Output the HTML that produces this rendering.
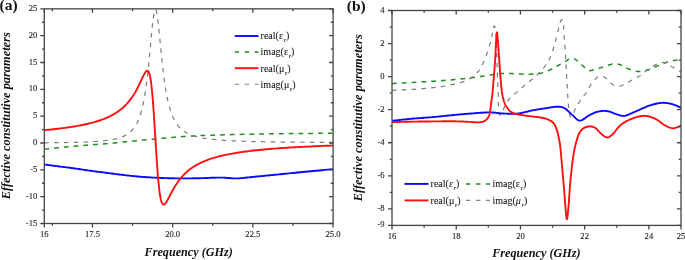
<!DOCTYPE html>
<html><head><meta charset="utf-8"><style>
html,body{margin:0;padding:0;background:#fff;}
body{width:685px;height:260px;overflow:hidden;position:relative;}
svg{position:absolute;left:0;top:0;will-change:transform;}
.t{font-family:"Liberation Serif",serif;}
</style></head><body>
<svg width="685" height="260" viewBox="0 0 685 260">
<rect width="685" height="260" fill="#fff"/>
<g class="t" font-size="8.6" fill="#222" stroke="#222" stroke-width="0.12"><text x="37.3" y="10.95" text-anchor="end">25</text><text x="37.3" y="37.78" text-anchor="end">20</text><text x="37.3" y="64.61" text-anchor="end">15</text><text x="37.3" y="91.44" text-anchor="end">10</text><text x="37.3" y="118.27" text-anchor="end">5</text><text x="37.3" y="145.11" text-anchor="end">0</text><text x="37.3" y="171.94" text-anchor="end">-5</text><text x="37.3" y="198.77" text-anchor="end">-10</text><text x="37.3" y="225.60" text-anchor="end">-15</text><text x="44.30" y="237.0" text-anchor="middle">16</text><text x="92.43" y="237.0" text-anchor="middle">17.5</text><text x="172.66" y="237.0" text-anchor="middle">20.0</text><text x="252.88" y="237.0" text-anchor="middle">22.5</text><text x="333.10" y="237.0" text-anchor="middle">25.0</text><text x="384.6" y="12.50" text-anchor="end">4</text><text x="384.6" y="45.56" text-anchor="end">2</text><text x="384.6" y="78.62" text-anchor="end">0</text><text x="384.6" y="111.68" text-anchor="end">-2</text><text x="384.6" y="144.75" text-anchor="end">-4</text><text x="384.6" y="177.81" text-anchor="end">-6</text><text x="384.6" y="210.87" text-anchor="end">-8</text><text x="384.6" y="227.40" text-anchor="end">-9</text><text x="392.00" y="239.1" text-anchor="middle">16</text><text x="456.22" y="239.1" text-anchor="middle">18</text><text x="520.44" y="239.1" text-anchor="middle">20</text><text x="584.67" y="239.1" text-anchor="middle">22</text><text x="648.89" y="239.1" text-anchor="middle">24</text><text x="681.00" y="239.1" text-anchor="middle">25</text></g>
<g class="t" font-weight="bold" font-size="15.5" fill="#111">
<text x="-0.5" y="10.3">(a)</text><text x="346.8" y="10.8">(b)</text></g>
<g class="t" font-weight="bold" font-style="italic" font-size="12.2" fill="#111">
<text x="188.7" y="255.6" text-anchor="middle">Frequency (GHz)</text>
<text x="536.4" y="256.9" text-anchor="middle">Frequency (GHz)</text>
<text transform="translate(9.6,115.75) rotate(-90)" text-anchor="middle" font-size="12.4">Effective constitutive parameters</text>
<text transform="translate(361.9,117.75) rotate(-90)" text-anchor="middle" font-size="12.4">Effective constitutive parameters</text>
</g>
<g fill="none" stroke-linejoin="round">
<path d="M44.30,149.10 L46.45,148.89 L48.62,148.68 L50.80,148.46 L52.99,148.24 L55.17,148.03 L57.35,147.81 L59.52,147.60 L61.67,147.39 L63.80,147.18 L65.90,146.98 L67.97,146.79 L70.00,146.60 L71.75,146.44 L73.48,146.29 L75.18,146.14 L76.85,145.99 L78.51,145.85 L80.16,145.71 L81.80,145.57 L83.43,145.43 L85.06,145.30 L86.70,145.17 L88.34,145.03 L90.00,144.90 L91.65,144.77 L93.30,144.65 L94.95,144.53 L96.60,144.41 L98.25,144.29 L99.89,144.17 L101.54,144.06 L103.19,143.94 L104.84,143.81 L106.49,143.68 L108.14,143.54 L109.80,143.40 L111.47,143.25 L113.13,143.08 L114.79,142.92 L116.44,142.74 L118.10,142.57 L119.76,142.39 L121.43,142.20 L123.11,142.02 L124.80,141.84 L126.51,141.66 L128.24,141.48 L130.00,141.30 L131.99,141.11 L134.04,140.91 L136.14,140.71 L138.27,140.51 L140.41,140.31 L142.56,140.11 L144.70,139.92 L146.81,139.72 L148.88,139.53 L150.90,139.35 L152.84,139.17 L154.70,139.00 L156.10,138.87 L157.46,138.74 L158.78,138.62 L160.08,138.50 L161.34,138.38 L162.59,138.27 L163.82,138.15 L165.05,138.04 L166.27,137.93 L167.50,137.82 L168.74,137.71 L170.00,137.60 L171.25,137.49 L172.51,137.38 L173.76,137.28 L175.01,137.17 L176.26,137.07 L177.51,136.96 L178.76,136.86 L180.00,136.76 L181.25,136.67 L182.50,136.57 L183.75,136.49 L185.00,136.40 L186.23,136.32 L187.44,136.24 L188.63,136.17 L189.82,136.10 L191.00,136.03 L192.19,135.97 L193.40,135.90 L194.64,135.84 L195.91,135.78 L197.22,135.72 L198.58,135.66 L200.00,135.60 L202.06,135.52 L204.20,135.43 L206.42,135.35 L208.72,135.28 L211.07,135.20 L213.49,135.13 L215.96,135.05 L218.47,134.98 L221.03,134.91 L223.63,134.84 L226.25,134.77 L228.90,134.70 L232.26,134.62 L235.79,134.53 L239.45,134.45 L243.21,134.36 L247.03,134.28 L250.88,134.20 L254.72,134.12 L258.53,134.05 L262.26,133.98 L265.89,133.91 L269.38,133.85 L272.70,133.80 L275.19,133.76 L277.59,133.73 L279.91,133.70 L282.18,133.67 L284.40,133.65 L286.59,133.63 L288.76,133.60 L290.94,133.58 L293.14,133.56 L295.37,133.54 L297.65,133.52 L300.00,133.50 L302.65,133.47 L305.33,133.45 L308.05,133.42 L310.80,133.40 L313.57,133.37 L316.35,133.35 L319.15,133.32 L321.95,133.30 L324.75,133.27 L327.55,133.25 L330.33,133.22 L333.10,133.20" stroke="#1f8f1f" stroke-width="1.5" stroke-dasharray="4.8 5"/>
<path d="M44.30,142.80 L46.60,142.78 L48.91,142.75 L51.21,142.73 L53.52,142.70 L55.82,142.68 L58.12,142.65 L60.43,142.61 L62.73,142.58 L65.03,142.54 L67.34,142.50 L69.64,142.45 L71.95,142.40 L74.25,142.35 L76.55,142.29 L78.86,142.22 L81.16,142.15 L83.46,142.07 L85.77,141.98 L88.07,141.88 L90.38,141.76 L92.68,141.64 L94.98,141.50 L97.29,141.34 L99.59,141.16 L101.90,140.96 L104.20,140.72 L106.50,140.46 L108.81,140.14 L111.11,139.78 L113.41,139.36 L115.72,138.86 L118.02,138.26 L120.33,137.55 L122.63,136.68 L124.93,135.62 L127.24,134.30 L129.54,132.64 L131.85,130.52 L134.15,127.76 L134.15,127.76 L134.31,127.54 L134.47,127.31 L134.63,127.08 L134.79,126.85 L134.95,126.60 L135.11,126.36 L135.28,126.11 L135.44,125.85 L135.60,125.59 L135.76,125.33 L135.92,125.05 L136.08,124.78 L136.24,124.49 L136.40,124.20 L136.56,123.91 L136.72,123.61 L136.89,123.30 L137.05,122.99 L137.21,122.66 L137.37,122.34 L137.53,122.00 L137.69,121.66 L137.85,121.31 L138.01,120.95 L138.17,120.59 L138.33,120.21 L138.50,119.83 L138.66,119.44 L138.82,119.04 L138.98,118.63 L139.14,118.21 L139.30,117.79 L139.46,117.35 L139.62,116.90 L139.78,116.45 L139.94,115.98 L140.11,115.50 L140.27,115.01 L140.43,114.51 L140.59,114.00 L140.75,113.47 L140.91,112.94 L141.07,112.39 L141.23,111.82 L141.39,111.25 L141.55,110.66 L141.71,110.05 L141.88,109.44 L142.04,108.80 L142.20,108.15 L142.36,107.49 L142.52,106.81 L142.68,106.11 L142.84,105.40 L143.00,104.67 L143.16,103.92 L143.32,103.16 L143.49,102.37 L143.65,101.57 L143.81,100.74 L143.97,99.90 L144.13,99.03 L144.29,98.15 L144.45,97.24 L144.61,96.32 L144.77,95.37 L144.93,94.39 L145.10,93.40 L145.26,92.38 L145.42,91.33 L145.58,90.27 L145.74,89.17 L145.90,88.05 L146.06,86.91 L146.22,85.74 L146.38,84.55 L146.54,83.32 L146.71,82.07 L146.87,80.80 L147.03,79.49 L147.19,78.16 L147.35,76.81 L147.51,75.42 L147.67,74.01 L147.83,72.57 L147.99,71.11 L148.15,69.61 L148.32,68.10 L148.48,66.55 L148.64,64.98 L148.80,63.39 L148.96,61.78 L149.12,60.14 L149.28,58.48 L149.44,56.81 L149.60,55.11 L149.76,53.40 L149.93,51.67 L150.09,49.94 L150.25,48.19 L150.41,46.44 L150.57,44.68 L150.73,42.92 L150.89,41.16 L151.05,39.40 L151.21,37.66 L151.37,35.92 L151.53,34.20 L151.70,32.50 L151.86,30.83 L152.02,29.18 L152.18,27.57 L152.34,26.00 L152.50,24.46 L152.66,22.98 L152.82,21.55 L152.98,20.17 L153.14,18.86 L153.31,17.61 L153.47,16.44 L153.63,15.34 L153.79,14.32 L153.95,13.38 L154.11,12.53 L154.27,11.78 L154.43,11.11 L154.59,10.55 L154.75,10.08 L154.92,9.71 L155.08,9.45 L155.24,9.29 L155.40,9.23 L155.56,9.28 L155.72,9.43 L155.88,9.68 L156.04,10.03 L156.20,10.48 L156.36,11.02 L156.53,11.67 L156.69,12.40 L156.85,13.21 L157.01,14.12 L157.17,15.10 L157.33,16.15 L157.49,17.28 L157.65,18.48 L157.81,19.73 L157.97,21.05 L158.14,22.41 L158.30,23.83 L158.46,25.28 L158.62,26.78 L158.78,28.31 L158.94,29.87 L159.10,31.46 L159.26,33.07 L159.42,34.69 L159.58,36.33 L159.74,37.98 L159.91,39.64 L160.07,41.30 L160.23,42.96 L160.39,44.62 L160.55,46.27 L160.71,47.92 L160.87,49.56 L161.03,51.18 L161.19,52.80 L161.35,54.40 L161.52,55.98 L161.68,57.54 L161.84,59.09 L162.00,60.62 L162.16,62.12 L162.32,63.61 L162.48,65.07 L162.64,66.51 L162.80,67.92 L162.96,69.31 L163.13,70.68 L163.29,72.02 L163.45,73.34 L163.61,74.63 L163.77,75.90 L163.93,77.14 L164.09,78.36 L164.25,79.56 L164.41,80.73 L164.57,81.88 L164.74,83.00 L164.90,84.10 L165.06,85.17 L165.22,86.23 L165.38,87.26 L165.54,88.27 L165.70,89.25 L165.86,90.22 L166.02,91.16 L166.18,92.09 L166.35,92.99 L166.51,93.87 L166.67,94.74 L166.83,95.58 L166.99,96.40 L167.15,97.21 L167.31,98.00 L167.47,98.77 L167.63,99.53 L167.79,100.26 L167.95,100.99 L168.12,101.69 L168.28,102.38 L168.44,103.05 L168.60,103.71 L168.76,104.36 L168.92,104.99 L169.08,105.61 L169.24,106.21 L169.40,106.80 L169.56,107.38 L169.73,107.94 L169.89,108.49 L170.05,109.03 L170.21,109.56 L170.37,110.08 L170.53,110.59 L170.69,111.08 L170.85,111.57 L171.01,112.04 L171.17,112.51 L171.34,112.96 L171.50,113.41 L171.66,113.84 L171.82,114.27 L171.98,114.69 L172.14,115.10 L172.30,115.50 L172.46,115.89 L172.62,116.27 L172.78,116.65 L172.95,117.02 L173.11,117.38 L173.27,117.74 L173.43,118.09 L173.59,118.43 L173.75,118.76 L173.91,119.09 L174.07,119.41 L174.23,119.73 L174.39,120.03 L174.56,120.34 L174.72,120.63 L174.88,120.93 L175.04,121.21 L175.20,121.49 L175.36,121.77 L175.52,122.04 L175.68,122.30 L175.84,122.56 L176.00,122.82 L176.16,123.07 L176.33,123.31 L176.49,123.56 L176.65,123.79 L176.81,124.03 L176.97,124.26 L177.13,124.48 L177.29,124.70 L177.45,124.92 L177.61,125.13 L177.77,125.34 L177.94,125.55 L178.10,125.75 L178.26,125.95 L178.42,126.14 L178.58,126.33 L178.74,126.52 L178.90,126.71 L179.06,126.89 L179.22,127.07 L179.38,127.25 L179.55,127.42 L179.71,127.59 L179.87,127.76 L180.03,127.92 L180.19,128.08 L180.35,128.24 L180.51,128.40 L180.67,128.56 L180.83,128.71 L180.99,128.86 L181.16,129.00 L181.32,129.15 L181.48,129.29 L181.64,129.43 L181.80,129.57 L181.96,129.71 L182.12,129.84 L182.28,129.97 L182.28,129.97 L184.84,131.82 L187.39,133.30 L189.95,134.49 L192.51,135.47 L195.06,136.29 L197.62,136.97 L200.18,137.55 L202.73,138.04 L205.29,138.47 L207.84,138.84 L210.40,139.17 L212.96,139.45 L215.51,139.70 L218.07,139.93 L220.63,140.13 L223.18,140.31 L225.74,140.47 L228.29,140.62 L230.85,140.75 L233.41,140.87 L235.96,140.98 L238.52,141.08 L241.08,141.18 L243.63,141.26 L246.19,141.34 L248.74,141.42 L251.30,141.48 L253.86,141.55 L256.41,141.61 L258.97,141.66 L261.53,141.71 L264.08,141.76 L266.64,141.81 L269.19,141.85 L271.75,141.89 L274.31,141.93 L276.86,141.96 L279.42,141.99 L281.98,142.03 L284.53,142.06 L287.09,142.08 L289.64,142.11 L292.20,142.14 L294.76,142.16 L297.31,142.18 L299.87,142.21 L302.43,142.23 L304.98,142.25 L307.54,142.27 L310.09,142.29 L312.65,142.30 L315.21,142.32 L317.76,142.34 L320.32,142.35 L322.88,142.37 L325.43,142.38 L327.99,142.39 L330.54,142.41 L333.10,142.42" stroke="#7c7c7c" stroke-width="1.2" stroke-dasharray="4.6 5.2"/>
<path d="M44.30,164.50 L45.44,164.65 L46.58,164.80 L47.72,164.95 L48.86,165.10 L49.99,165.25 L51.13,165.40 L52.27,165.55 L53.41,165.70 L54.55,165.85 L55.70,166.00 L56.85,166.15 L58.00,166.30 L59.18,166.45 L60.36,166.60 L61.54,166.74 L62.72,166.89 L63.90,167.03 L65.09,167.18 L66.28,167.32 L67.47,167.47 L68.67,167.62 L69.88,167.78 L71.08,167.94 L72.30,168.10 L73.58,168.28 L74.87,168.46 L76.16,168.65 L77.46,168.84 L78.77,169.04 L80.08,169.23 L81.39,169.43 L82.71,169.63 L84.03,169.83 L85.35,170.02 L86.67,170.21 L88.00,170.40 L89.37,170.59 L90.73,170.78 L92.11,170.96 L93.48,171.15 L94.86,171.33 L96.25,171.51 L97.63,171.70 L99.02,171.88 L100.41,172.06 L101.80,172.24 L103.20,172.42 L104.60,172.60 L106.03,172.79 L107.47,172.97 L108.91,173.16 L110.36,173.35 L111.80,173.54 L113.25,173.72 L114.71,173.91 L116.16,174.09 L117.62,174.27 L119.08,174.45 L120.54,174.63 L122.00,174.80 L123.49,174.97 L124.97,175.14 L126.45,175.32 L127.94,175.49 L129.43,175.65 L130.92,175.82 L132.41,175.98 L133.92,176.13 L135.42,176.28 L136.94,176.43 L138.46,176.57 L140.00,176.70 L141.63,176.83 L143.27,176.96 L144.92,177.07 L146.58,177.19 L148.25,177.29 L149.92,177.40 L151.60,177.49 L153.28,177.58 L154.96,177.67 L156.64,177.75 L158.32,177.83 L160.00,177.90 L161.69,177.97 L163.39,178.03 L165.09,178.09 L166.80,178.15 L168.51,178.19 L170.21,178.24 L171.92,178.28 L173.62,178.31 L175.32,178.34 L177.02,178.37 L178.71,178.39 L180.40,178.40 L182.04,178.41 L183.68,178.41 L185.30,178.41 L186.92,178.40 L188.54,178.38 L190.16,178.37 L191.78,178.34 L193.40,178.32 L195.04,178.29 L196.68,178.26 L198.33,178.23 L200.00,178.20 L201.79,178.16 L203.62,178.10 L205.47,178.04 L207.34,177.97 L209.21,177.89 L211.09,177.82 L212.96,177.75 L214.80,177.69 L216.62,177.64 L218.40,177.60 L220.13,177.59 L221.80,177.60 L223.13,177.63 L224.41,177.69 L225.66,177.77 L226.89,177.86 L228.09,177.96 L229.28,178.06 L230.47,178.16 L231.66,178.25 L232.86,178.33 L234.07,178.38 L235.32,178.41 L236.60,178.40 L238.06,178.35 L239.54,178.28 L241.05,178.17 L242.56,178.04 L244.09,177.89 L245.64,177.73 L247.19,177.56 L248.75,177.38 L250.31,177.20 L251.87,177.02 L253.44,176.86 L255.00,176.70 L256.61,176.55 L258.22,176.39 L259.82,176.24 L261.43,176.09 L263.04,175.93 L264.65,175.78 L266.28,175.62 L267.93,175.46 L269.59,175.30 L271.27,175.13 L272.97,174.97 L274.70,174.80 L276.69,174.61 L278.69,174.41 L280.72,174.21 L282.77,174.00 L284.85,173.80 L286.94,173.59 L289.06,173.38 L291.20,173.17 L293.36,172.95 L295.55,172.74 L297.76,172.52 L300.00,172.30 L302.60,172.05 L305.26,171.79 L307.96,171.53 L310.70,171.26 L313.48,170.99 L316.27,170.72 L319.08,170.45 L321.90,170.18 L324.72,169.91 L327.53,169.64 L330.33,169.37 L333.10,169.10" stroke="#0a0aff" stroke-width="1.9"/>
<path d="M44.30,130.11 L46.60,129.90 L48.91,129.68 L51.21,129.45 L53.52,129.21 L55.82,128.96 L58.12,128.69 L60.43,128.42 L62.73,128.13 L65.03,127.83 L67.34,127.51 L69.64,127.18 L71.95,126.83 L74.25,126.46 L76.55,126.07 L78.86,125.66 L81.16,125.22 L83.46,124.75 L85.77,124.26 L88.07,123.73 L90.38,123.17 L92.68,122.57 L94.98,121.92 L97.29,121.23 L99.59,120.48 L101.90,119.67 L104.20,118.80 L106.50,117.85 L108.81,116.81 L111.11,115.68 L113.41,114.43 L115.72,113.05 L118.02,111.53 L120.33,109.83 L122.63,107.93 L124.93,105.80 L127.24,103.40 L129.54,100.67 L131.85,97.58 L134.15,94.05 L134.15,94.05 L134.31,93.79 L134.47,93.52 L134.63,93.25 L134.79,92.98 L134.95,92.71 L135.11,92.44 L135.28,92.16 L135.44,91.88 L135.60,91.59 L135.76,91.31 L135.92,91.02 L136.08,90.73 L136.24,90.44 L136.40,90.15 L136.56,89.85 L136.72,89.55 L136.89,89.25 L137.05,88.95 L137.21,88.64 L137.37,88.33 L137.53,88.02 L137.69,87.71 L137.85,87.39 L138.01,87.07 L138.17,86.75 L138.33,86.43 L138.50,86.11 L138.66,85.78 L138.82,85.45 L138.98,85.12 L139.14,84.79 L139.30,84.46 L139.46,84.12 L139.62,83.79 L139.78,83.45 L139.94,83.11 L140.11,82.77 L140.27,82.42 L140.43,82.08 L140.59,81.73 L140.75,81.39 L140.91,81.04 L141.07,80.69 L141.23,80.35 L141.39,80.00 L141.55,79.65 L141.71,79.30 L141.88,78.96 L142.04,78.61 L142.20,78.27 L142.36,77.92 L142.52,77.58 L142.68,77.24 L142.84,76.90 L143.00,76.57 L143.16,76.23 L143.32,75.91 L143.49,75.58 L143.65,75.26 L143.81,74.94 L143.97,74.63 L144.13,74.33 L144.29,74.03 L144.45,73.74 L144.61,73.46 L144.77,73.19 L144.93,72.92 L145.10,72.67 L145.26,72.42 L145.42,72.19 L145.58,71.97 L145.74,71.77 L145.90,71.58 L146.06,71.40 L146.22,71.25 L146.38,71.11 L146.54,70.99 L146.71,70.89 L146.87,70.81 L147.03,70.76 L147.19,70.73 L147.35,70.73 L147.51,70.76 L147.67,70.82 L147.83,70.91 L147.99,71.03 L148.15,71.19 L148.32,71.39 L148.48,71.62 L148.64,71.90 L148.80,72.22 L148.96,72.58 L149.12,73.00 L149.28,73.46 L149.44,73.98 L149.60,74.54 L149.76,75.17 L149.93,75.85 L150.09,76.60 L150.25,77.41 L150.41,78.28 L150.57,79.22 L150.73,80.22 L150.89,81.30 L151.05,82.45 L151.21,83.67 L151.37,84.97 L151.53,86.34 L151.70,87.78 L151.86,89.30 L152.02,90.90 L152.18,92.58 L152.34,94.33 L152.50,96.16 L152.66,98.06 L152.82,100.03 L152.98,102.07 L153.14,104.19 L153.31,106.36 L153.47,108.61 L153.63,110.91 L153.79,113.26 L153.95,115.67 L154.11,118.12 L154.27,120.62 L154.43,123.15 L154.59,125.72 L154.75,128.31 L154.92,130.92 L155.08,133.54 L155.24,136.17 L155.40,138.81 L155.56,141.43 L155.72,144.05 L155.88,146.66 L156.04,149.24 L156.20,151.79 L156.36,154.31 L156.53,156.79 L156.69,159.23 L156.85,161.62 L157.01,163.95 L157.17,166.24 L157.33,168.46 L157.49,170.61 L157.65,172.71 L157.81,174.73 L157.97,176.69 L158.14,178.57 L158.30,180.38 L158.46,182.12 L158.62,183.78 L158.78,185.37 L158.94,186.88 L159.10,188.32 L159.26,189.69 L159.42,190.98 L159.58,192.20 L159.74,193.35 L159.91,194.43 L160.07,195.45 L160.23,196.39 L160.39,197.28 L160.55,198.10 L160.71,198.86 L160.87,199.57 L161.03,200.21 L161.19,200.81 L161.35,201.35 L161.52,201.84 L161.68,202.28 L161.84,202.68 L162.00,203.03 L162.16,203.34 L162.32,203.62 L162.48,203.85 L162.64,204.05 L162.80,204.21 L162.96,204.34 L163.13,204.44 L163.29,204.51 L163.45,204.55 L163.61,204.57 L163.77,204.56 L163.93,204.53 L164.09,204.48 L164.25,204.41 L164.41,204.31 L164.57,204.20 L164.74,204.07 L164.90,203.93 L165.06,203.77 L165.22,203.60 L165.38,203.41 L165.54,203.22 L165.70,203.01 L165.86,202.79 L166.02,202.56 L166.18,202.32 L166.35,202.08 L166.51,201.82 L166.67,201.56 L166.83,201.30 L166.99,201.03 L167.15,200.75 L167.31,200.47 L167.47,200.18 L167.63,199.89 L167.79,199.59 L167.95,199.30 L168.12,199.00 L168.28,198.69 L168.44,198.39 L168.60,198.08 L168.76,197.77 L168.92,197.47 L169.08,197.15 L169.24,196.84 L169.40,196.53 L169.56,196.22 L169.73,195.91 L169.89,195.60 L170.05,195.28 L170.21,194.97 L170.37,194.66 L170.53,194.35 L170.69,194.04 L170.85,193.73 L171.01,193.42 L171.17,193.12 L171.34,192.81 L171.50,192.51 L171.66,192.20 L171.82,191.90 L171.98,191.60 L172.14,191.30 L172.30,191.00 L172.46,190.71 L172.62,190.42 L172.78,190.12 L172.95,189.83 L173.11,189.55 L173.27,189.26 L173.43,188.97 L173.59,188.69 L173.75,188.41 L173.91,188.13 L174.07,187.86 L174.23,187.58 L174.39,187.31 L174.56,187.04 L174.72,186.77 L174.88,186.50 L175.04,186.24 L175.20,185.98 L175.36,185.72 L175.52,185.46 L175.68,185.20 L175.84,184.95 L176.00,184.69 L176.16,184.44 L176.33,184.20 L176.49,183.95 L176.65,183.71 L176.81,183.47 L176.97,183.23 L177.13,182.99 L177.29,182.75 L177.45,182.52 L177.61,182.29 L177.77,182.06 L177.94,181.83 L178.10,181.60 L178.26,181.38 L178.42,181.16 L178.58,180.94 L178.74,180.72 L178.90,180.50 L179.06,180.29 L179.22,180.07 L179.38,179.86 L179.55,179.65 L179.71,179.45 L179.87,179.24 L180.03,179.04 L180.19,178.83 L180.35,178.63 L180.51,178.43 L180.67,178.24 L180.83,178.04 L180.99,177.85 L181.16,177.66 L181.32,177.47 L181.48,177.28 L181.64,177.09 L181.80,176.91 L181.96,176.72 L182.12,176.54 L182.28,176.36 L182.28,176.36 L184.84,173.69 L187.39,171.34 L189.95,169.28 L192.51,167.45 L195.06,165.82 L197.62,164.37 L200.18,163.06 L202.73,161.87 L205.29,160.80 L207.84,159.82 L210.40,158.93 L212.96,158.11 L215.51,157.35 L218.07,156.65 L220.63,156.00 L223.18,155.40 L225.74,154.84 L228.29,154.32 L230.85,153.83 L233.41,153.37 L235.96,152.94 L238.52,152.53 L241.08,152.15 L243.63,151.79 L246.19,151.44 L248.74,151.12 L251.30,150.81 L253.86,150.52 L256.41,150.24 L258.97,149.98 L261.53,149.72 L264.08,149.48 L266.64,149.25 L269.19,149.03 L271.75,148.82 L274.31,148.62 L276.86,148.42 L279.42,148.23 L281.98,148.05 L284.53,147.88 L287.09,147.72 L289.64,147.56 L292.20,147.40 L294.76,147.25 L297.31,147.11 L299.87,146.97 L302.43,146.83 L304.98,146.70 L307.54,146.58 L310.09,146.46 L312.65,146.34 L315.21,146.22 L317.76,146.11 L320.32,146.00 L322.88,145.90 L325.43,145.80 L327.99,145.70 L330.54,145.60 L333.10,145.51" stroke="#ff1010" stroke-width="1.9"/>
<path d="M392.00,83.50 L394.34,83.38 L396.68,83.25 L399.02,83.13 L401.37,83.01 L403.72,82.89 L406.07,82.77 L408.41,82.64 L410.74,82.52 L413.07,82.39 L415.39,82.27 L417.70,82.13 L420.00,82.00 L422.21,81.87 L424.44,81.74 L426.66,81.60 L428.89,81.47 L431.11,81.33 L433.32,81.19 L435.51,81.05 L437.67,80.91 L439.81,80.76 L441.91,80.61 L443.98,80.46 L446.00,80.30 L447.70,80.16 L449.37,80.02 L451.01,79.88 L452.64,79.74 L454.24,79.59 L455.83,79.44 L457.40,79.29 L458.95,79.14 L460.48,78.98 L462.00,78.82 L463.51,78.66 L465.00,78.50 L466.32,78.35 L467.62,78.20 L468.90,78.05 L470.17,77.90 L471.43,77.74 L472.68,77.58 L473.92,77.42 L475.15,77.26 L476.37,77.10 L477.58,76.93 L478.79,76.77 L480.00,76.60 L481.12,76.44 L482.23,76.27 L483.32,76.10 L484.41,75.92 L485.50,75.75 L486.58,75.57 L487.65,75.40 L488.72,75.22 L489.79,75.06 L490.86,74.90 L491.93,74.74 L493.00,74.60 L494.05,74.46 L495.09,74.32 L496.14,74.19 L497.19,74.05 L498.23,73.92 L499.28,73.79 L500.31,73.67 L501.35,73.57 L502.37,73.48 L503.39,73.40 L504.40,73.34 L505.40,73.30 L506.31,73.28 L507.20,73.29 L508.09,73.31 L508.96,73.35 L509.83,73.40 L510.70,73.46 L511.57,73.52 L512.43,73.58 L513.31,73.65 L514.19,73.71 L515.09,73.76 L516.00,73.80 L517.00,73.84 L518.01,73.89 L519.03,73.94 L520.06,74.00 L521.10,74.05 L522.14,74.10 L523.19,74.14 L524.23,74.18 L525.28,74.20 L526.32,74.22 L527.36,74.22 L528.40,74.20 L529.44,74.18 L530.48,74.15 L531.53,74.12 L532.58,74.09 L533.63,74.04 L534.68,73.99 L535.73,73.91 L536.76,73.82 L537.79,73.71 L538.81,73.57 L539.81,73.40 L540.80,73.20 L541.73,72.98 L542.66,72.73 L543.58,72.45 L544.50,72.15 L545.41,71.83 L546.30,71.50 L547.19,71.15 L548.06,70.78 L548.92,70.42 L549.77,70.04 L550.59,69.67 L551.40,69.30 L552.09,68.97 L552.77,68.63 L553.43,68.27 L554.07,67.91 L554.71,67.55 L555.33,67.18 L555.95,66.81 L556.57,66.44 L557.17,66.07 L557.78,65.71 L558.39,65.35 L559.00,65.00 L559.57,64.68 L560.13,64.36 L560.69,64.05 L561.24,63.73 L561.79,63.42 L562.34,63.11 L562.88,62.80 L563.43,62.49 L563.97,62.19 L564.51,61.89 L565.06,61.59 L565.60,61.30 L566.12,61.00 L566.64,60.67 L567.16,60.33 L567.68,59.97 L568.19,59.62 L568.71,59.28 L569.22,58.96 L569.74,58.68 L570.25,58.44 L570.77,58.26 L571.28,58.14 L571.80,58.10 L572.32,58.14 L572.85,58.25 L573.38,58.41 L573.91,58.64 L574.44,58.90 L574.97,59.20 L575.50,59.53 L576.02,59.88 L576.53,60.24 L577.03,60.60 L577.52,60.96 L578.00,61.30 L578.46,61.64 L578.89,62.00 L579.32,62.38 L579.73,62.77 L580.14,63.17 L580.54,63.57 L580.94,63.99 L581.34,64.40 L581.74,64.81 L582.15,65.22 L582.57,65.61 L583.00,66.00 L583.45,66.40 L583.90,66.84 L584.35,67.28 L584.81,67.74 L585.27,68.19 L585.73,68.63 L586.20,69.05 L586.67,69.44 L587.14,69.79 L587.62,70.09 L588.11,70.33 L588.60,70.50 L589.03,70.59 L589.47,70.63 L589.90,70.63 L590.34,70.59 L590.79,70.52 L591.24,70.43 L591.69,70.32 L592.14,70.20 L592.60,70.07 L593.06,69.94 L593.53,69.81 L594.00,69.70 L594.54,69.57 L595.10,69.44 L595.66,69.29 L596.23,69.13 L596.80,68.96 L597.38,68.79 L597.96,68.61 L598.54,68.43 L599.11,68.25 L599.68,68.06 L600.24,67.88 L600.80,67.70 L601.33,67.52 L601.85,67.34 L602.36,67.15 L602.87,66.96 L603.38,66.77 L603.89,66.58 L604.40,66.38 L604.91,66.19 L605.42,66.01 L605.94,65.83 L606.47,65.66 L607.00,65.50 L607.57,65.33 L608.14,65.16 L608.72,64.99 L609.31,64.82 L609.90,64.66 L610.50,64.50 L611.09,64.36 L611.68,64.22 L612.27,64.11 L612.85,64.02 L613.43,63.94 L614.00,63.90 L614.51,63.88 L615.02,63.87 L615.52,63.87 L616.01,63.89 L616.51,63.93 L617.00,63.97 L617.49,64.04 L617.99,64.12 L618.48,64.21 L618.98,64.32 L619.49,64.45 L620.00,64.60 L620.62,64.81 L621.23,65.07 L621.85,65.37 L622.46,65.70 L623.08,66.05 L623.71,66.42 L624.34,66.79 L624.99,67.16 L625.64,67.53 L626.31,67.88 L627.00,68.21 L627.70,68.50 L628.53,68.82 L629.38,69.15 L630.27,69.47 L631.17,69.79 L632.08,70.11 L633.01,70.40 L633.94,70.67 L634.88,70.92 L635.80,71.13 L636.72,71.30 L637.62,71.43 L638.50,71.50 L639.29,71.52 L640.07,71.51 L640.85,71.46 L641.62,71.38 L642.39,71.27 L643.16,71.14 L643.92,70.98 L644.68,70.81 L645.44,70.62 L646.19,70.42 L646.95,70.21 L647.70,70.00 L648.48,69.76 L649.24,69.50 L650.00,69.21 L650.76,68.91 L651.52,68.58 L652.27,68.25 L653.03,67.91 L653.79,67.56 L654.55,67.21 L655.33,66.86 L656.11,66.53 L656.90,66.20 L657.76,65.85 L658.63,65.49 L659.50,65.12 L660.38,64.75 L661.26,64.37 L662.15,64.00 L663.05,63.64 L663.96,63.28 L664.88,62.94 L665.81,62.61 L666.75,62.29 L667.70,62.00 L668.75,61.71 L669.82,61.44 L670.91,61.19 L672.01,60.96 L673.12,60.74 L674.25,60.53 L675.37,60.33 L676.50,60.13 L677.64,59.93 L678.76,59.73 L679.89,59.52 L681.00,59.30" stroke="#1f8f1f" stroke-width="1.5" stroke-dasharray="4.8 5"/>
<path d="M392.00,90.30 L394.81,90.17 L397.62,90.05 L400.44,89.94 L403.25,89.83 L406.07,89.71 L408.88,89.59 L411.68,89.46 L414.47,89.30 L417.25,89.11 L420.00,88.90 L422.66,88.67 L425.34,88.43 L428.01,88.18 L430.68,87.90 L433.33,87.61 L435.96,87.30 L438.55,86.97 L441.09,86.61 L443.58,86.22 L446.00,85.80 L448.08,85.41 L450.17,85.01 L452.25,84.58 L454.31,84.14 L456.32,83.68 L458.27,83.20 L460.13,82.70 L461.89,82.18 L463.52,81.65 L465.00,81.10 L465.86,80.74 L466.67,80.38 L467.42,80.00 L468.14,79.62 L468.81,79.24 L469.46,78.84 L470.09,78.44 L470.70,78.04 L471.30,77.62 L471.90,77.20 L472.42,76.82 L472.93,76.43 L473.42,76.03 L473.89,75.63 L474.36,75.22 L474.81,74.81 L475.25,74.40 L475.68,73.99 L476.09,73.59 L476.50,73.20 L476.84,72.88 L477.16,72.57 L477.48,72.26 L477.79,71.96 L478.09,71.66 L478.38,71.36 L478.67,71.04 L478.95,70.71 L479.23,70.37 L479.50,70.00 L479.81,69.54 L480.12,69.05 L480.41,68.54 L480.70,68.01 L480.99,67.46 L481.26,66.91 L481.53,66.36 L481.79,65.83 L482.05,65.30 L482.30,64.80 L482.51,64.38 L482.71,63.98 L482.91,63.58 L483.10,63.20 L483.29,62.81 L483.47,62.42 L483.65,62.03 L483.83,61.63 L484.02,61.22 L484.20,60.80 L484.41,60.31 L484.61,59.81 L484.82,59.30 L485.02,58.79 L485.22,58.26 L485.42,57.73 L485.62,57.20 L485.81,56.67 L486.01,56.13 L486.20,55.60 L486.40,55.05 L486.59,54.50 L486.78,53.94 L486.97,53.39 L487.16,52.83 L487.35,52.27 L487.54,51.70 L487.73,51.14 L487.91,50.57 L488.10,50.00 L488.29,49.41 L488.49,48.81 L488.69,48.22 L488.88,47.62 L489.08,47.01 L489.27,46.41 L489.46,45.81 L489.65,45.20 L489.83,44.60 L490.00,44.00 L490.17,43.41 L490.33,42.83 L490.48,42.24 L490.63,41.66 L490.78,41.07 L490.93,40.49 L491.07,39.90 L491.22,39.30 L491.36,38.70 L491.50,38.10 L491.65,37.45 L491.79,36.80 L491.93,36.13 L492.07,35.47 L492.21,34.79 L492.35,34.12 L492.49,33.46 L492.62,32.79 L492.76,32.14 L492.90,31.50 L493.03,30.86 L493.16,30.15 L493.28,29.40 L493.41,28.65 L493.54,27.92 L493.67,27.25 L493.80,26.67 L493.93,26.21 L494.06,25.91 L494.20,25.80 L494.32,25.85 L494.44,26.02 L494.57,26.27 L494.69,26.61 L494.82,27.01 L494.95,27.47 L495.07,27.95 L495.19,28.47 L495.30,28.99 L495.40,29.50 L495.58,30.60 L495.72,31.85 L495.85,33.24 L495.95,34.74 L496.04,36.34 L496.11,38.01 L496.18,39.74 L496.25,41.49 L496.32,43.25 L496.40,45.00 L496.50,47.26 L496.59,49.62 L496.67,52.06 L496.74,54.57 L496.81,57.13 L496.88,59.71 L496.95,62.31 L497.03,64.90 L497.11,67.47 L497.20,70.00 L497.30,72.51 L497.40,75.05 L497.50,77.60 L497.61,80.15 L497.71,82.69 L497.83,85.22 L497.94,87.73 L498.06,90.20 L498.18,92.63 L498.30,95.00 L498.38,97.18 L498.40,99.52 L498.40,101.94 L498.40,104.37 L498.41,106.72 L498.46,108.91 L498.57,110.86 L498.77,112.50 L499.07,113.74 L499.50,114.50 L499.67,114.64 L499.86,114.75 L500.06,114.83 L500.27,114.88 L500.48,114.89 L500.70,114.88 L500.91,114.85 L501.12,114.79 L501.32,114.71 L501.50,114.60 L501.81,114.30 L502.08,113.86 L502.32,113.29 L502.55,112.63 L502.76,111.89 L502.97,111.11 L503.19,110.30 L503.43,109.50 L503.70,108.72 L504.00,108.00 L504.39,107.17 L504.79,106.33 L505.20,105.47 L505.63,104.60 L506.09,103.72 L506.57,102.85 L507.09,101.97 L507.65,101.10 L508.25,100.24 L508.90,99.40 L509.78,98.38 L510.77,97.36 L511.83,96.35 L512.96,95.35 L514.13,94.35 L515.32,93.36 L516.53,92.38 L517.72,91.41 L518.88,90.45 L520.00,89.50 L521.02,88.62 L522.03,87.76 L523.04,86.90 L524.04,86.06 L525.04,85.22 L526.03,84.39 L527.03,83.55 L528.02,82.71 L529.01,81.86 L530.00,81.00 L531.01,80.12 L532.05,79.22 L533.10,78.32 L534.15,77.41 L535.19,76.50 L536.22,75.59 L537.21,74.70 L538.16,73.81 L539.06,72.95 L539.90,72.10 L540.50,71.47 L541.07,70.85 L541.61,70.25 L542.13,69.65 L542.63,69.06 L543.12,68.47 L543.59,67.87 L544.06,67.27 L544.53,66.64 L545.00,66.00 L545.50,65.31 L546.00,64.59 L546.50,63.85 L546.99,63.11 L547.48,62.36 L547.95,61.60 L548.40,60.86 L548.83,60.12 L549.23,59.40 L549.60,58.70 L549.88,58.15 L550.13,57.63 L550.36,57.13 L550.58,56.63 L550.78,56.13 L550.98,55.63 L551.18,55.11 L551.38,54.57 L551.58,54.00 L551.80,53.40 L552.11,52.51 L552.43,51.56 L552.76,50.57 L553.08,49.54 L553.41,48.48 L553.74,47.39 L554.06,46.29 L554.38,45.19 L554.69,44.09 L555.00,43.00 L555.32,41.83 L555.63,40.63 L555.94,39.41 L556.25,38.18 L556.55,36.95 L556.85,35.72 L557.14,34.50 L557.43,33.30 L557.72,32.13 L558.00,31.00 L558.24,30.02 L558.47,29.02 L558.70,28.02 L558.93,27.03 L559.15,26.06 L559.37,25.12 L559.60,24.23 L559.83,23.41 L560.06,22.66 L560.30,22.00 L560.44,21.65 L560.58,21.30 L560.72,20.95 L560.86,20.62 L561.01,20.31 L561.15,20.04 L561.29,19.81 L561.43,19.64 L561.57,19.53 L561.70,19.50 L561.87,19.58 L562.03,19.80 L562.19,20.12 L562.35,20.53 L562.51,21.02 L562.66,21.57 L562.80,22.16 L562.94,22.77 L563.08,23.39 L563.20,24.00 L563.40,25.19 L563.57,26.56 L563.71,28.06 L563.83,29.68 L563.93,31.37 L564.02,33.12 L564.10,34.88 L564.19,36.64 L564.29,38.35 L564.40,40.00 L564.52,41.59 L564.64,43.18 L564.77,44.76 L564.89,46.33 L565.02,47.91 L565.14,49.50 L565.26,51.10 L565.38,52.71 L565.49,54.34 L565.60,56.00 L565.71,57.84 L565.82,59.71 L565.93,61.61 L566.03,63.53 L566.12,65.46 L566.22,67.40 L566.31,69.33 L566.41,71.24 L566.50,73.14 L566.60,75.00 L566.69,76.75 L566.78,78.49 L566.86,80.22 L566.95,81.95 L567.03,83.66 L567.12,85.37 L567.21,87.05 L567.30,88.72 L567.40,90.37 L567.50,92.00 L567.59,93.46 L567.69,94.92 L567.78,96.36 L567.87,97.79 L567.97,99.20 L568.08,100.60 L568.19,101.98 L568.31,103.34 L568.45,104.68 L568.60,106.00 L568.73,107.21 L568.85,108.52 L568.97,109.87 L569.09,111.22 L569.23,112.53 L569.39,113.74 L569.57,114.82 L569.80,115.72 L570.07,116.40 L570.40,116.80 L570.55,116.88 L570.71,116.94 L570.88,116.96 L571.05,116.96 L571.23,116.94 L571.41,116.89 L571.59,116.82 L571.76,116.73 L571.94,116.62 L572.10,116.50 L572.42,116.15 L572.72,115.65 L573.01,115.02 L573.28,114.30 L573.55,113.52 L573.81,112.69 L574.09,111.84 L574.37,111.01 L574.68,110.22 L575.00,109.50 L575.35,108.81 L575.71,108.13 L576.09,107.44 L576.47,106.76 L576.86,106.09 L577.27,105.41 L577.67,104.75 L578.08,104.09 L578.49,103.44 L578.90,102.80 L579.30,102.19 L579.70,101.59 L580.11,101.00 L580.52,100.41 L580.94,99.83 L581.35,99.26 L581.77,98.69 L582.18,98.12 L582.59,97.56 L583.00,97.00 L583.38,96.49 L583.76,95.98 L584.14,95.49 L584.52,95.00 L584.90,94.51 L585.27,94.02 L585.64,93.53 L586.00,93.03 L586.36,92.52 L586.70,92.00 L587.03,91.45 L587.35,90.90 L587.65,90.33 L587.95,89.75 L588.24,89.18 L588.53,88.60 L588.83,88.02 L589.13,87.44 L589.46,86.87 L589.80,86.30 L590.18,85.71 L590.57,85.10 L590.96,84.50 L591.37,83.89 L591.79,83.29 L592.21,82.70 L592.65,82.12 L593.09,81.56 L593.54,81.02 L594.00,80.50 L594.43,80.03 L594.87,79.55 L595.31,79.07 L595.76,78.61 L596.22,78.16 L596.68,77.74 L597.15,77.35 L597.63,77.01 L598.11,76.72 L598.60,76.50 L599.03,76.36 L599.46,76.24 L599.91,76.17 L600.37,76.12 L600.82,76.10 L601.28,76.11 L601.73,76.15 L602.17,76.21 L602.59,76.29 L603.00,76.40 L603.38,76.54 L603.76,76.71 L604.12,76.92 L604.48,77.15 L604.83,77.40 L605.17,77.67 L605.51,77.95 L605.84,78.24 L606.17,78.52 L606.50,78.80 L606.83,79.08 L607.15,79.38 L607.46,79.69 L607.76,80.00 L608.06,80.32 L608.36,80.64 L608.66,80.97 L608.97,81.28 L609.28,81.60 L609.60,81.90 L609.93,82.20 L610.25,82.51 L610.58,82.83 L610.90,83.13 L611.24,83.44 L611.57,83.74 L611.91,84.03 L612.27,84.30 L612.63,84.56 L613.00,84.80 L613.39,85.03 L613.80,85.26 L614.23,85.47 L614.66,85.68 L615.10,85.87 L615.53,86.05 L615.97,86.20 L616.39,86.33 L616.81,86.43 L617.20,86.50 L617.49,86.53 L617.77,86.55 L618.04,86.56 L618.30,86.55 L618.56,86.52 L618.82,86.48 L619.09,86.43 L619.38,86.37 L619.68,86.29 L620.00,86.20 L620.59,86.01 L621.25,85.75 L621.95,85.44 L622.69,85.10 L623.45,84.72 L624.22,84.33 L624.98,83.93 L625.72,83.53 L626.43,83.15 L627.10,82.80 L627.63,82.52 L628.12,82.25 L628.60,81.98 L629.07,81.71 L629.53,81.44 L629.99,81.16 L630.47,80.89 L630.95,80.60 L631.46,80.31 L632.00,80.00 L632.74,79.59 L633.52,79.18 L634.33,78.75 L635.17,78.32 L636.02,77.87 L636.88,77.41 L637.75,76.94 L638.61,76.44 L639.47,75.93 L640.30,75.40 L641.19,74.78 L642.08,74.12 L642.96,73.42 L643.84,72.70 L644.71,71.96 L645.60,71.23 L646.48,70.50 L647.38,69.80 L648.28,69.13 L649.20,68.50 L650.11,67.91 L651.03,67.33 L651.97,66.74 L652.91,66.17 L653.86,65.63 L654.81,65.11 L655.75,64.63 L656.69,64.20 L657.60,63.82 L658.50,63.50 L659.22,63.27 L659.93,63.06 L660.63,62.87 L661.33,62.71 L662.02,62.58 L662.70,62.49 L663.38,62.44 L664.06,62.43 L664.73,62.49 L665.40,62.60 L666.11,62.81 L666.80,63.11 L667.49,63.48 L668.16,63.91 L668.83,64.39 L669.51,64.90 L670.18,65.42 L670.87,65.94 L671.58,66.43 L672.30,66.90 L673.13,67.40 L673.97,67.90 L674.83,68.41 L675.70,68.92 L676.58,69.43 L677.47,69.94 L678.36,70.46 L679.24,70.97 L680.13,71.49 L681.00,72.00" stroke="#7c7c7c" stroke-width="1.2" stroke-dasharray="4.6 5.2"/>
<path d="M392.00,120.80 L393.49,120.64 L394.97,120.48 L396.44,120.32 L397.90,120.16 L399.37,120.00 L400.84,119.84 L402.32,119.68 L403.81,119.52 L405.32,119.36 L406.85,119.20 L408.41,119.05 L410.00,118.90 L411.88,118.73 L413.80,118.57 L415.77,118.41 L417.77,118.26 L419.79,118.10 L421.83,117.95 L423.88,117.80 L425.92,117.65 L427.95,117.49 L429.96,117.33 L431.95,117.17 L433.90,117.00 L435.72,116.83 L437.54,116.66 L439.35,116.48 L441.16,116.30 L442.97,116.12 L444.76,115.93 L446.53,115.75 L448.28,115.57 L450.01,115.39 L451.71,115.22 L453.37,115.05 L455.00,114.90 L456.34,114.78 L457.67,114.65 L458.97,114.54 L460.25,114.42 L461.51,114.31 L462.76,114.20 L463.99,114.10 L465.21,113.99 L466.42,113.89 L467.62,113.79 L468.81,113.70 L470.00,113.60 L471.06,113.51 L472.11,113.43 L473.16,113.34 L474.19,113.26 L475.22,113.18 L476.24,113.10 L477.24,113.02 L478.24,112.95 L479.23,112.88 L480.20,112.81 L481.16,112.75 L482.10,112.70 L482.90,112.66 L483.69,112.61 L484.47,112.57 L485.23,112.52 L485.99,112.48 L486.74,112.45 L487.49,112.42 L488.23,112.39 L488.97,112.38 L489.71,112.37 L490.45,112.38 L491.20,112.40 L491.94,112.44 L492.68,112.49 L493.42,112.55 L494.16,112.63 L494.90,112.72 L495.64,112.81 L496.37,112.90 L497.10,112.99 L497.83,113.08 L498.56,113.16 L499.28,113.24 L500.00,113.30 L500.68,113.35 L501.36,113.40 L502.03,113.44 L502.71,113.48 L503.38,113.51 L504.05,113.55 L504.71,113.58 L505.37,113.61 L506.03,113.63 L506.69,113.66 L507.35,113.68 L508.00,113.70 L508.62,113.72 L509.23,113.75 L509.84,113.77 L510.45,113.80 L511.06,113.82 L511.66,113.84 L512.26,113.86 L512.87,113.87 L513.47,113.87 L514.08,113.86 L514.69,113.84 L515.30,113.80 L515.94,113.75 L516.58,113.68 L517.22,113.61 L517.86,113.52 L518.50,113.42 L519.15,113.32 L519.79,113.21 L520.44,113.09 L521.08,112.97 L521.72,112.85 L522.36,112.73 L523.00,112.60 L523.64,112.47 L524.27,112.33 L524.91,112.18 L525.54,112.03 L526.18,111.87 L526.81,111.71 L527.44,111.55 L528.08,111.39 L528.71,111.24 L529.34,111.09 L529.97,110.94 L530.60,110.80 L531.22,110.67 L531.83,110.54 L532.45,110.42 L533.06,110.30 L533.67,110.18 L534.28,110.06 L534.90,109.95 L535.51,109.84 L536.13,109.72 L536.75,109.62 L537.37,109.51 L538.00,109.40 L538.66,109.29 L539.33,109.18 L540.00,109.08 L540.68,108.98 L541.37,108.88 L542.05,108.78 L542.73,108.68 L543.41,108.59 L544.07,108.49 L544.73,108.39 L545.37,108.30 L546.00,108.20 L546.53,108.11 L547.06,108.03 L547.57,107.94 L548.08,107.85 L548.58,107.76 L549.08,107.67 L549.57,107.58 L550.06,107.50 L550.55,107.42 L551.03,107.34 L551.52,107.27 L552.00,107.20 L552.45,107.14 L552.89,107.08 L553.33,107.02 L553.77,106.96 L554.20,106.91 L554.63,106.86 L555.07,106.81 L555.50,106.77 L555.92,106.74 L556.35,106.72 L556.78,106.70 L557.20,106.70 L557.61,106.70 L558.02,106.71 L558.43,106.72 L558.84,106.74 L559.25,106.77 L559.66,106.80 L560.07,106.84 L560.47,106.89 L560.86,106.95 L561.25,107.02 L561.63,107.11 L562.00,107.20 L562.33,107.29 L562.65,107.39 L562.96,107.49 L563.26,107.60 L563.55,107.72 L563.85,107.85 L564.14,107.99 L564.44,108.14 L564.74,108.31 L565.05,108.49 L565.37,108.68 L565.70,108.90 L566.23,109.28 L566.77,109.72 L567.33,110.22 L567.90,110.76 L568.49,111.33 L569.08,111.92 L569.68,112.53 L570.28,113.14 L570.89,113.74 L571.50,114.32 L572.10,114.88 L572.70,115.40 L573.27,115.90 L573.83,116.43 L574.40,116.99 L574.96,117.55 L575.52,118.11 L576.09,118.65 L576.67,119.15 L577.25,119.60 L577.84,119.98 L578.45,120.29 L579.07,120.50 L579.70,120.60 L580.43,120.57 L581.18,120.38 L581.96,120.08 L582.75,119.67 L583.56,119.17 L584.37,118.63 L585.19,118.04 L586.00,117.45 L586.80,116.86 L587.59,116.31 L588.36,115.82 L589.10,115.40 L589.71,115.09 L590.30,114.78 L590.88,114.48 L591.45,114.18 L592.02,113.89 L592.58,113.61 L593.14,113.34 L593.71,113.09 L594.27,112.84 L594.84,112.61 L595.41,112.40 L596.00,112.20 L596.58,112.02 L597.17,111.86 L597.76,111.70 L598.36,111.56 L598.96,111.43 L599.57,111.31 L600.17,111.20 L600.77,111.11 L601.36,111.04 L601.95,110.98 L602.53,110.93 L603.10,110.90 L603.61,110.89 L604.12,110.89 L604.62,110.90 L605.11,110.92 L605.61,110.96 L606.10,111.00 L606.58,111.06 L607.07,111.13 L607.55,111.21 L608.03,111.30 L608.52,111.39 L609.00,111.50 L609.49,111.62 L609.96,111.77 L610.43,111.92 L610.90,112.10 L611.36,112.28 L611.83,112.47 L612.30,112.66 L612.77,112.86 L613.26,113.05 L613.76,113.24 L614.27,113.43 L614.80,113.60 L615.48,113.82 L616.19,114.06 L616.93,114.32 L617.69,114.58 L618.46,114.84 L619.24,115.09 L620.02,115.33 L620.80,115.53 L621.58,115.70 L622.34,115.82 L623.08,115.89 L623.80,115.90 L624.43,115.85 L625.05,115.75 L625.66,115.62 L626.27,115.44 L626.86,115.24 L627.45,115.01 L628.04,114.77 L628.63,114.51 L629.22,114.25 L629.81,113.99 L630.40,113.74 L631.00,113.50 L631.62,113.26 L632.23,113.00 L632.83,112.75 L633.43,112.48 L634.03,112.21 L634.63,111.94 L635.24,111.66 L635.86,111.38 L636.49,111.09 L637.14,110.80 L637.81,110.50 L638.50,110.20 L639.42,109.80 L640.37,109.38 L641.35,108.93 L642.36,108.47 L643.39,108.01 L644.43,107.54 L645.49,107.08 L646.56,106.63 L647.63,106.20 L648.69,105.80 L649.75,105.43 L650.80,105.10 L651.81,104.80 L652.84,104.52 L653.87,104.24 L654.90,103.98 L655.94,103.74 L656.98,103.51 L658.02,103.32 L659.05,103.15 L660.08,103.01 L661.09,102.90 L662.10,102.83 L663.10,102.80 L664.02,102.81 L664.95,102.86 L665.88,102.93 L666.81,103.04 L667.73,103.17 L668.65,103.33 L669.55,103.51 L670.44,103.70 L671.31,103.91 L672.17,104.13 L673.00,104.36 L673.80,104.60 L674.46,104.81 L675.10,105.04 L675.72,105.29 L676.33,105.55 L676.93,105.82 L677.51,106.10 L678.09,106.39 L678.67,106.68 L679.24,106.96 L679.82,107.25 L680.41,107.53 L681.00,107.80" stroke="#0a0aff" stroke-width="1.9"/>
<path d="M392.00,122.10 L393.79,122.06 L395.56,122.02 L397.32,121.98 L399.08,121.93 L400.84,121.89 L402.62,121.85 L404.41,121.81 L406.24,121.77 L408.10,121.73 L410.00,121.70 L412.26,121.66 L414.59,121.63 L416.97,121.59 L419.39,121.56 L421.83,121.53 L424.28,121.50 L426.73,121.47 L429.16,121.44 L431.56,121.42 L433.90,121.40 L436.08,121.38 L438.26,121.35 L440.44,121.33 L442.61,121.31 L444.76,121.28 L446.88,121.27 L448.98,121.26 L451.03,121.26 L453.04,121.27 L455.00,121.30 L456.62,121.34 L458.22,121.38 L459.79,121.44 L461.34,121.50 L462.87,121.57 L464.36,121.64 L465.83,121.71 L467.25,121.78 L468.65,121.84 L470.00,121.90 L471.06,121.95 L472.11,122.03 L473.14,122.11 L474.15,122.19 L475.13,122.27 L476.09,122.33 L477.02,122.38 L477.92,122.39 L478.78,122.37 L479.60,122.30 L480.18,122.23 L480.73,122.15 L481.27,122.06 L481.79,121.95 L482.29,121.83 L482.78,121.69 L483.25,121.53 L483.71,121.35 L484.16,121.14 L484.60,120.90 L485.03,120.63 L485.46,120.34 L485.87,120.02 L486.27,119.67 L486.66,119.31 L487.03,118.92 L487.38,118.51 L487.71,118.09 L488.02,117.65 L488.30,117.20 L488.58,116.67 L488.83,116.12 L489.04,115.54 L489.23,114.93 L489.40,114.31 L489.55,113.67 L489.69,113.01 L489.82,112.35 L489.96,111.68 L490.10,111.00 L490.26,110.20 L490.40,109.37 L490.53,108.51 L490.65,107.64 L490.77,106.75 L490.87,105.87 L490.98,104.98 L491.08,104.10 L491.19,103.24 L491.30,102.40 L491.40,101.65 L491.51,100.93 L491.61,100.22 L491.71,99.53 L491.81,98.83 L491.91,98.12 L492.01,97.39 L492.11,96.64 L492.20,95.84 L492.30,95.00 L492.44,93.72 L492.57,92.36 L492.70,90.93 L492.83,89.45 L492.96,87.92 L493.09,86.35 L493.22,84.77 L493.34,83.17 L493.47,81.58 L493.60,80.00 L493.74,78.27 L493.89,76.53 L494.03,74.78 L494.18,73.01 L494.32,71.22 L494.46,69.41 L494.60,67.59 L494.74,65.74 L494.87,63.88 L495.00,62.00 L495.13,59.84 L495.26,57.56 L495.38,55.21 L495.50,52.82 L495.61,50.43 L495.72,48.09 L495.84,45.84 L495.95,43.71 L496.07,41.75 L496.20,40.00 L496.28,39.00 L496.36,37.96 L496.44,36.91 L496.52,35.89 L496.60,34.94 L496.68,34.08 L496.76,33.35 L496.84,32.79 L496.92,32.43 L497.00,32.30 L497.08,32.43 L497.16,32.80 L497.24,33.36 L497.32,34.10 L497.40,34.96 L497.48,35.92 L497.56,36.94 L497.64,37.98 L497.72,39.01 L497.80,40.00 L497.94,41.63 L498.07,43.45 L498.21,45.40 L498.36,47.46 L498.50,49.59 L498.64,51.76 L498.79,53.92 L498.93,56.03 L499.07,58.07 L499.20,60.00 L499.31,61.58 L499.42,63.13 L499.53,64.64 L499.63,66.13 L499.74,67.60 L499.84,69.06 L499.95,70.53 L500.06,72.00 L500.18,73.49 L500.30,75.00 L500.43,76.62 L500.56,78.30 L500.70,80.00 L500.84,81.72 L500.98,83.43 L501.13,85.12 L501.28,86.76 L501.45,88.33 L501.62,89.82 L501.80,91.20 L501.93,92.11 L502.07,92.98 L502.20,93.81 L502.34,94.62 L502.49,95.40 L502.63,96.16 L502.79,96.89 L502.95,97.61 L503.12,98.31 L503.30,99.00 L503.45,99.54 L503.60,100.07 L503.75,100.58 L503.91,101.07 L504.07,101.56 L504.24,102.04 L504.41,102.51 L504.60,102.97 L504.79,103.44 L505.00,103.90 L505.21,104.35 L505.44,104.81 L505.67,105.26 L505.91,105.70 L506.16,106.14 L506.42,106.57 L506.68,107.00 L506.95,107.41 L507.22,107.81 L507.50,108.20 L507.76,108.55 L508.01,108.89 L508.28,109.22 L508.54,109.55 L508.81,109.87 L509.09,110.18 L509.38,110.48 L509.68,110.76 L509.98,111.04 L510.30,111.30 L510.63,111.55 L510.97,111.78 L511.32,112.01 L511.68,112.22 L512.05,112.42 L512.43,112.61 L512.81,112.80 L513.20,112.97 L513.60,113.14 L514.00,113.30 L514.43,113.46 L514.87,113.61 L515.32,113.74 L515.77,113.86 L516.24,113.97 L516.71,114.08 L517.19,114.19 L517.68,114.29 L518.18,114.39 L518.70,114.50 L519.36,114.63 L520.05,114.76 L520.76,114.89 L521.49,115.02 L522.24,115.14 L522.99,115.26 L523.75,115.37 L524.50,115.48 L525.26,115.59 L526.00,115.70 L526.76,115.80 L527.52,115.90 L528.29,115.99 L529.06,116.08 L529.83,116.17 L530.60,116.26 L531.36,116.34 L532.12,116.43 L532.87,116.51 L533.60,116.60 L534.26,116.68 L534.92,116.75 L535.56,116.82 L536.20,116.89 L536.84,116.96 L537.47,117.04 L538.10,117.12 L538.74,117.20 L539.37,117.30 L540.00,117.40 L540.64,117.51 L541.30,117.63 L541.96,117.75 L542.62,117.88 L543.27,118.01 L543.92,118.15 L544.55,118.30 L545.16,118.46 L545.74,118.62 L546.30,118.80 L546.72,118.95 L547.12,119.09 L547.50,119.25 L547.88,119.40 L548.24,119.57 L548.60,119.74 L548.95,119.91 L549.30,120.10 L549.65,120.30 L550.00,120.50 L550.37,120.72 L550.73,120.93 L551.10,121.15 L551.46,121.37 L551.82,121.61 L552.18,121.86 L552.52,122.13 L552.86,122.43 L553.19,122.75 L553.50,123.10 L553.89,123.61 L554.27,124.19 L554.64,124.81 L554.99,125.47 L555.33,126.16 L555.65,126.87 L555.96,127.60 L556.25,128.34 L556.53,129.08 L556.80,129.80 L557.06,130.57 L557.31,131.35 L557.53,132.15 L557.74,132.96 L557.93,133.78 L558.12,134.61 L558.29,135.43 L558.46,136.26 L558.63,137.08 L558.80,137.90 L558.97,138.70 L559.12,139.48 L559.27,140.25 L559.42,141.03 L559.56,141.81 L559.69,142.59 L559.82,143.40 L559.95,144.23 L560.08,145.10 L560.20,146.00 L560.35,147.24 L560.50,148.54 L560.63,149.89 L560.76,151.28 L560.89,152.71 L561.01,154.15 L561.13,155.62 L561.25,157.08 L561.37,158.55 L561.50,160.00 L561.64,161.54 L561.78,163.10 L561.92,164.68 L562.06,166.27 L562.20,167.86 L562.34,169.46 L562.48,171.05 L562.62,172.64 L562.76,174.23 L562.90,175.80 L563.03,177.33 L563.17,178.86 L563.30,180.38 L563.43,181.89 L563.56,183.41 L563.69,184.92 L563.82,186.44 L563.95,187.95 L564.07,189.48 L564.20,191.00 L564.32,192.55 L564.44,194.11 L564.55,195.69 L564.67,197.26 L564.78,198.83 L564.89,200.40 L565.01,201.96 L565.13,203.49 L565.26,205.01 L565.40,206.50 L565.53,207.95 L565.67,209.55 L565.82,211.24 L565.97,212.94 L566.12,214.58 L566.27,216.08 L566.43,217.38 L566.59,218.40 L566.74,219.06 L566.90,219.30 L567.06,219.06 L567.22,218.40 L567.39,217.38 L567.56,216.08 L567.73,214.58 L567.90,212.94 L568.06,211.24 L568.21,209.55 L568.36,207.95 L568.50,206.50 L568.64,205.01 L568.76,203.49 L568.87,201.96 L568.98,200.40 L569.08,198.83 L569.18,197.26 L569.28,195.69 L569.38,194.11 L569.48,192.55 L569.60,191.00 L569.72,189.47 L569.84,187.94 L569.96,186.40 L570.09,184.87 L570.21,183.34 L570.34,181.82 L570.48,180.30 L570.61,178.79 L570.75,177.29 L570.90,175.80 L571.05,174.38 L571.19,172.96 L571.35,171.54 L571.51,170.12 L571.67,168.72 L571.83,167.33 L572.00,165.95 L572.16,164.61 L572.33,163.29 L572.50,162.00 L572.64,160.93 L572.78,159.90 L572.92,158.88 L573.05,157.88 L573.19,156.90 L573.34,155.92 L573.49,154.95 L573.65,153.97 L573.82,152.99 L574.00,152.00 L574.19,150.98 L574.40,149.96 L574.61,148.93 L574.83,147.90 L575.06,146.87 L575.29,145.85 L575.53,144.84 L575.78,143.84 L576.04,142.86 L576.30,141.90 L576.54,141.04 L576.77,140.18 L577.00,139.32 L577.24,138.48 L577.49,137.65 L577.74,136.83 L578.02,136.03 L578.32,135.26 L578.64,134.51 L579.00,133.80 L579.33,133.18 L579.68,132.58 L580.04,131.98 L580.41,131.40 L580.80,130.84 L581.21,130.30 L581.64,129.80 L582.10,129.33 L582.58,128.89 L583.10,128.50 L583.67,128.14 L584.29,127.80 L584.95,127.50 L585.63,127.23 L586.33,127.00 L587.05,126.80 L587.76,126.64 L588.46,126.52 L589.15,126.44 L589.80,126.40 L590.37,126.40 L590.93,126.44 L591.48,126.50 L592.03,126.60 L592.58,126.72 L593.12,126.88 L593.65,127.07 L594.17,127.28 L594.69,127.53 L595.20,127.80 L595.77,128.18 L596.32,128.64 L596.86,129.16 L597.38,129.72 L597.89,130.32 L598.40,130.93 L598.93,131.54 L599.46,132.13 L600.02,132.69 L600.60,133.20 L601.22,133.72 L601.87,134.27 L602.54,134.85 L603.23,135.41 L603.92,135.96 L604.61,136.45 L605.30,136.87 L605.98,137.20 L606.65,137.42 L607.30,137.50 L607.86,137.45 L608.41,137.31 L608.96,137.09 L609.50,136.79 L610.03,136.44 L610.56,136.04 L611.09,135.60 L611.62,135.14 L612.16,134.67 L612.70,134.20 L613.41,133.52 L614.11,132.75 L614.80,131.89 L615.49,130.98 L616.19,130.04 L616.90,129.08 L617.62,128.14 L618.38,127.23 L619.17,126.38 L620.00,125.60 L620.88,124.87 L621.79,124.17 L622.73,123.49 L623.68,122.84 L624.67,122.22 L625.68,121.62 L626.72,121.05 L627.79,120.51 L628.88,119.99 L630.00,119.50 L631.33,118.96 L632.73,118.42 L634.20,117.89 L635.70,117.40 L637.22,116.95 L638.76,116.55 L640.28,116.23 L641.77,115.98 L643.22,115.84 L644.60,115.80 L645.75,115.86 L646.89,116.00 L648.01,116.20 L649.12,116.47 L650.20,116.79 L651.27,117.15 L652.33,117.55 L653.37,117.99 L654.39,118.44 L655.40,118.90 L656.38,119.41 L657.34,119.99 L658.28,120.62 L659.21,121.29 L660.12,121.98 L661.02,122.67 L661.91,123.35 L662.80,123.99 L663.70,124.58 L664.60,125.10 L665.38,125.52 L666.14,125.94 L666.91,126.35 L667.67,126.74 L668.42,127.10 L669.18,127.43 L669.95,127.71 L670.72,127.94 L671.50,128.11 L672.30,128.20 L673.14,128.20 L673.99,128.11 L674.86,127.95 L675.73,127.72 L676.61,127.45 L677.49,127.15 L678.37,126.83 L679.25,126.53 L680.13,126.24 L681.00,126.00" stroke="#ff1010" stroke-width="1.9"/>
</g>
<g fill="none" stroke="#444" stroke-width="1.3">
<rect x="44.3" y="8.85" width="288.80" height="214.65"/>
<path d="M40.30,223.50H44.30M333.10,223.50H329.10M42.00,210.08H44.30M333.10,210.08H330.80M40.30,196.67H44.30M333.10,196.67H329.10M42.00,183.25H44.30M333.10,183.25H330.80M40.30,169.84H44.30M333.10,169.84H329.10M42.00,156.42H44.30M333.10,156.42H330.80M40.30,143.01H44.30M333.10,143.01H329.10M42.00,129.59H44.30M333.10,129.59H330.80M40.30,116.17H44.30M333.10,116.17H329.10M42.00,102.76H44.30M333.10,102.76H330.80M40.30,89.34H44.30M333.10,89.34H329.10M42.00,75.93H44.30M333.10,75.93H330.80M40.30,62.51H44.30M333.10,62.51H329.10M42.00,49.10H44.30M333.10,49.10H330.80M40.30,35.68H44.30M333.10,35.68H329.10M42.00,22.27H44.30M333.10,22.27H330.80M40.30,8.85H44.30M333.10,8.85H329.10M44.30,223.50V227.50M44.30,8.85V12.85M92.43,223.50V227.50M92.43,8.85V12.85M172.66,223.50V227.50M172.66,8.85V12.85M252.88,223.50V227.50M252.88,8.85V12.85M333.10,223.50V227.50M333.10,8.85V12.85M52.32,223.50V225.80M52.32,8.85V11.15M132.54,223.50V225.80M132.54,8.85V11.15M212.77,223.50V225.80M212.77,8.85V11.15M292.99,223.50V225.80M292.99,8.85V11.15"/>
<rect x="392" y="10.5" width="289.00" height="214.90"/>
<path d="M388.00,225.40H392.00M681.00,225.40H677.00M388.00,208.87H392.00M681.00,208.87H677.00M389.70,192.34H392.00M681.00,192.34H678.70M388.00,175.81H392.00M681.00,175.81H677.00M389.70,159.28H392.00M681.00,159.28H678.70M388.00,142.75H392.00M681.00,142.75H677.00M389.70,126.22H392.00M681.00,126.22H678.70M388.00,109.68H392.00M681.00,109.68H677.00M389.70,93.15H392.00M681.00,93.15H678.70M388.00,76.62H392.00M681.00,76.62H677.00M389.70,60.09H392.00M681.00,60.09H678.70M388.00,43.56H392.00M681.00,43.56H677.00M389.70,27.03H392.00M681.00,27.03H678.70M388.00,10.50H392.00M681.00,10.50H677.00M392.00,225.40V229.40M392.00,10.50V14.50M424.11,225.40V227.70M424.11,10.50V12.80M456.22,225.40V229.40M456.22,10.50V14.50M488.33,225.40V227.70M488.33,10.50V12.80M520.44,225.40V229.40M520.44,10.50V14.50M552.56,225.40V227.70M552.56,10.50V12.80M584.67,225.40V229.40M584.67,10.50V14.50M616.78,225.40V227.70M616.78,10.50V12.80M648.89,225.40V229.40M648.89,10.50V14.50M681.00,225.40V229.40M681.00,10.50V14.50"/>
</g>
<!-- legend a -->
<g fill="none">
<path d="M234.7,36H258.5" stroke="#0a0aff" stroke-width="1.9"/>
<path d="M234.7,52H258.5" stroke="#1f8f1f" stroke-width="1.5" stroke-dasharray="4.4 5.6"/>
<path d="M234.7,68.2H258.5" stroke="#ff1010" stroke-width="1.9"/>
<path d="M234.7,84.2H258.5" stroke="#858585" stroke-width="1.1" stroke-dasharray="4.4 5.6"/>
<path d="M404.5,183.9H428.5" stroke="#0a0aff" stroke-width="1.9"/>
<path d="M466,183.9H490" stroke="#1f8f1f" stroke-width="1.5" stroke-dasharray="4.4 5.6"/>
<path d="M404.5,200.4H428.5" stroke="#ff1010" stroke-width="1.9"/>
<path d="M466,200.4H490" stroke="#858585" stroke-width="1.1" stroke-dasharray="4.4 5.6"/>
</g>
<g class="t" font-size="10" fill="#222" stroke="#222" stroke-width="0.1">
<text x="260.6" y="39.4">real(<tspan>ε</tspan><tspan font-size="6.5" dx="0.7" dy="2.9">r</tspan><tspan dy="-2.9">)</tspan></text>
<text x="260.6" y="55.4">imag(<tspan>ε</tspan><tspan font-size="6.5" dx="0.7" dy="2.9">r</tspan><tspan dy="-2.9">)</tspan></text>
<text x="260.6" y="71.6">real(<tspan>μ</tspan><tspan font-size="6.5" dx="0.7" dy="2.9">r</tspan><tspan dy="-2.9">)</tspan></text>
<text x="260.6" y="87.6">imag(<tspan>μ</tspan><tspan font-size="6.5" dx="0.7" dy="2.9">r</tspan><tspan dy="-2.9">)</tspan></text>
<text x="430.6" y="187.4">real(<tspan font-style="italic">ε</tspan><tspan font-size="6.5" dx="0.7" dy="2.9" font-style="italic">r</tspan><tspan dy="-2.9">)</tspan></text>
<text x="492.5" y="187.4">imag(<tspan>ε</tspan><tspan font-size="6.5" dx="0.7" dy="2.9">r</tspan><tspan dy="-2.9">)</tspan></text>
<text x="430.6" y="203.9">real(<tspan>μ</tspan><tspan font-size="6.5" dx="0.7" dy="2.9">r</tspan><tspan dy="-2.9">)</tspan></text>
<text x="492.5" y="203.9">imag(<tspan font-style="italic">μ</tspan><tspan font-size="6.5" dx="0.7" dy="2.9" font-style="italic">r</tspan><tspan dy="-2.9">)</tspan></text>
</g>
</svg>
</body></html>
